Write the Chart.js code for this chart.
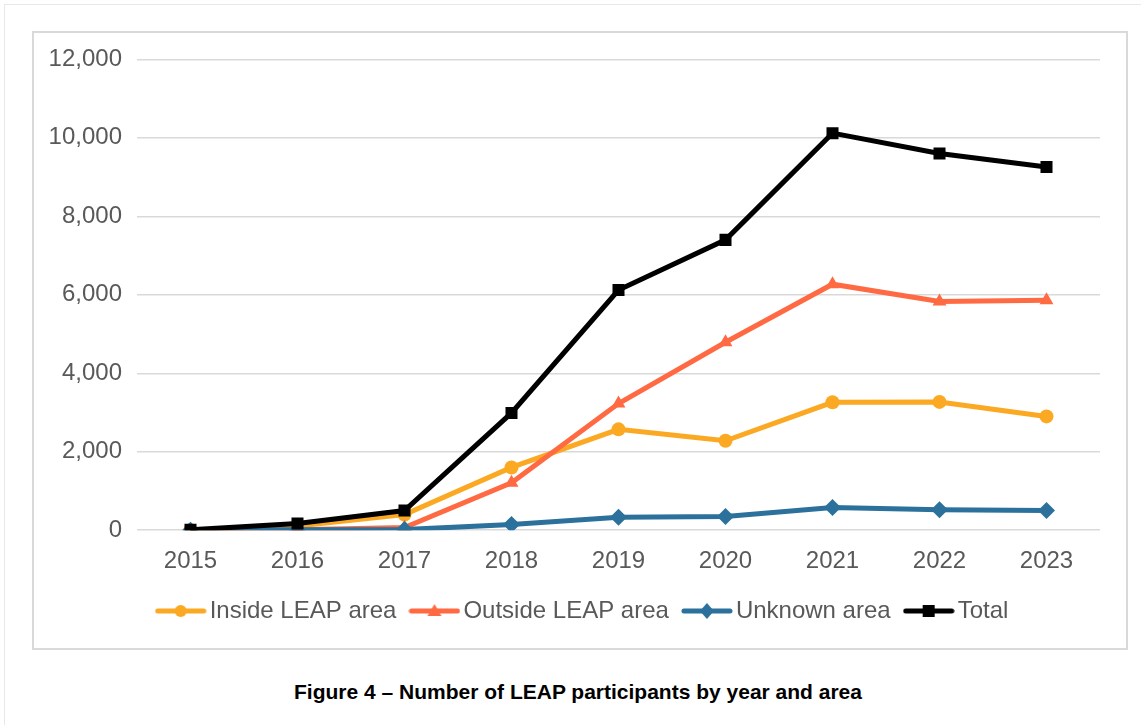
<!DOCTYPE html>
<html>
<head>
<meta charset="utf-8">
<script src="https://cdn.jsdelivr.net/npm/chart.js@4.4.1/dist/chart.umd.min.js"></script>
<style>
  html, body { margin: 0; padding: 0; background: #fff; width: 1141px; height: 725px; overflow: hidden; }
  #outer { position: absolute; left: 4px; top: 4px; width: 1160px; height: 740px; border: 1px solid #e8e8e8; }
  #box { position: absolute; left: 32px; top: 31px; width: 1092px; height: 615px; border: 2px solid #d9d9d9; }
  #wrap { position: absolute; left: 34px; top: 30px; width: 1092px; height: 618px; }
  #caption { position: absolute; left: 0; width: 1156px; top: 680px; text-align: center;
    font-family: "Liberation Sans", Arial, sans-serif; font-weight: bold; font-size: 21px; color: #000; }
</style>
</head>
<body>
<div id="outer"></div>
<div id="box"></div>
<div id="wrap"><canvas id="c"></canvas></div>
<div id="caption">Figure 4 – Number of LEAP participants by year and area</div>
<script>
const years = ["2015","2016","2017","2018","2019","2020","2021","2022","2023"];
const insideLEAP  = [0, 110, 400, 1600, 2570, 2280, 3260, 3270, 2900];
const outsideLEAP = [0, 10, 70, 1210, 3230, 4790, 6270, 5830, 5860];
const unknownArea = [0, 10, 15, 145, 330, 350, 580, 520, 500];
const totalAll    = [10, 170, 500, 2990, 6120, 7400, 10120, 9600, 9260];
const yTicks = [0, 2000, 4000, 6000, 8000, 10000, 12000];

const seriesNames = ["Inside LEAP area", "Outside LEAP area", "Unknown area", "Total"];
const colors = ["#FBA923", "#FF6A43", "#2B719C", "#000000"];
const styles = ["circle", "triangle", "rectRot", "rect"];
const radii = [7, 8, 8.5, 8.5];

function legendIcon(color, style) {
  const cv = document.createElement('canvas');
  cv.width = 52; cv.height = 20;
  const ctx = cv.getContext('2d');
  ctx.strokeStyle = color; ctx.lineWidth = 5; ctx.lineCap = 'round';
  ctx.beginPath(); ctx.moveTo(3, 10); ctx.lineTo(49, 10); ctx.stroke();
  ctx.fillStyle = color;
  ctx.beginPath();
  if (style === 'circle') { ctx.arc(26, 10, 6, 0, Math.PI * 2); }
  else if (style === 'triangle') { ctx.moveTo(26, 3); ctx.lineTo(33, 15); ctx.lineTo(19, 15); ctx.closePath(); }
  else if (style === 'rectRot') { ctx.moveTo(26, 2); ctx.lineTo(33, 10); ctx.lineTo(26, 18); ctx.lineTo(19, 10); ctx.closePath(); }
  else { ctx.rect(20, 4, 12, 12); }
  ctx.fill();
  return cv;
}
const icons = colors.map((c, i) => legendIcon(c, styles[i]));

const dataArrays = [insideLEAP, outsideLEAP, unknownArea, totalAll];
const datasets = dataArrays.map((d, i) => ({
  label: seriesNames[i],
  data: d,
  borderColor: colors[i],
  backgroundColor: colors[i],
  borderWidth: 5,
  pointStyle: styles[i],
  pointRadius: radii[i],
  pointHoverRadius: radii[i],
  pointBorderWidth: 0,
  tension: 0,
  order: 4 - i
}));

const shiftLegend = {
  id: 'shiftLegend',
  afterLayout(chart) {
    const lg = chart.legend;
    if (!lg) return;
    lg.top -= 15; lg.bottom -= 15;
    lg.left += 19; lg.right += 19;
  }
};

Chart.defaults.font.family = '"Liberation Sans", Arial, sans-serif';
Chart.defaults.color = '#595959';

new Chart(document.getElementById('c'), {
  type: 'line',
  data: { labels: years, datasets },
  plugins: [shiftLegend],
  options: {
    responsive: true,
    maintainAspectRatio: false,
    animation: false,
    layout: { padding: { top: 22, right: 26, left: 0, bottom: 0 } },
    plugins: {
      tooltip: { enabled: false },
      legend: {
        position: 'bottom',
        labels: {
          usePointStyle: true,
          pointStyleWidth: 34,
          padding: 21,
          font: { size: 24 },
          color: '#595959',
          generateLabels: (chart) => chart.data.datasets.map((ds, i) => ({
            text: ds.label,
            pointStyle: icons[i],
            fillStyle: ds.borderColor,
            strokeStyle: ds.borderColor,
            lineWidth: 0,
            hidden: false,
            datasetIndex: i,
            fontColor: '#595959'
          }))
        }
      }
    },
    scales: {
      x: {
        offset: true,
        grid: { display: false, drawTicks: false },
        border: { display: false },
        ticks: { font: { size: 24 }, color: '#595959', padding: 17 }
      },
      y: {
        min: 0, max: 12000,
        afterBuildTicks: (s) => { s.ticks = yTicks.map(v => ({ value: v })); },
        afterFit: (s) => { s.width = 103; },
        grid: { color: '#d9d9d9', lineWidth: 1.5, drawTicks: false },
        border: { display: false },
        ticks: {
          font: { size: 24 }, color: '#595959', padding: 15,
          callback: (v) => v.toLocaleString('en-US')
        }
      }
    }
  }
});
</script>
</body>
</html>
